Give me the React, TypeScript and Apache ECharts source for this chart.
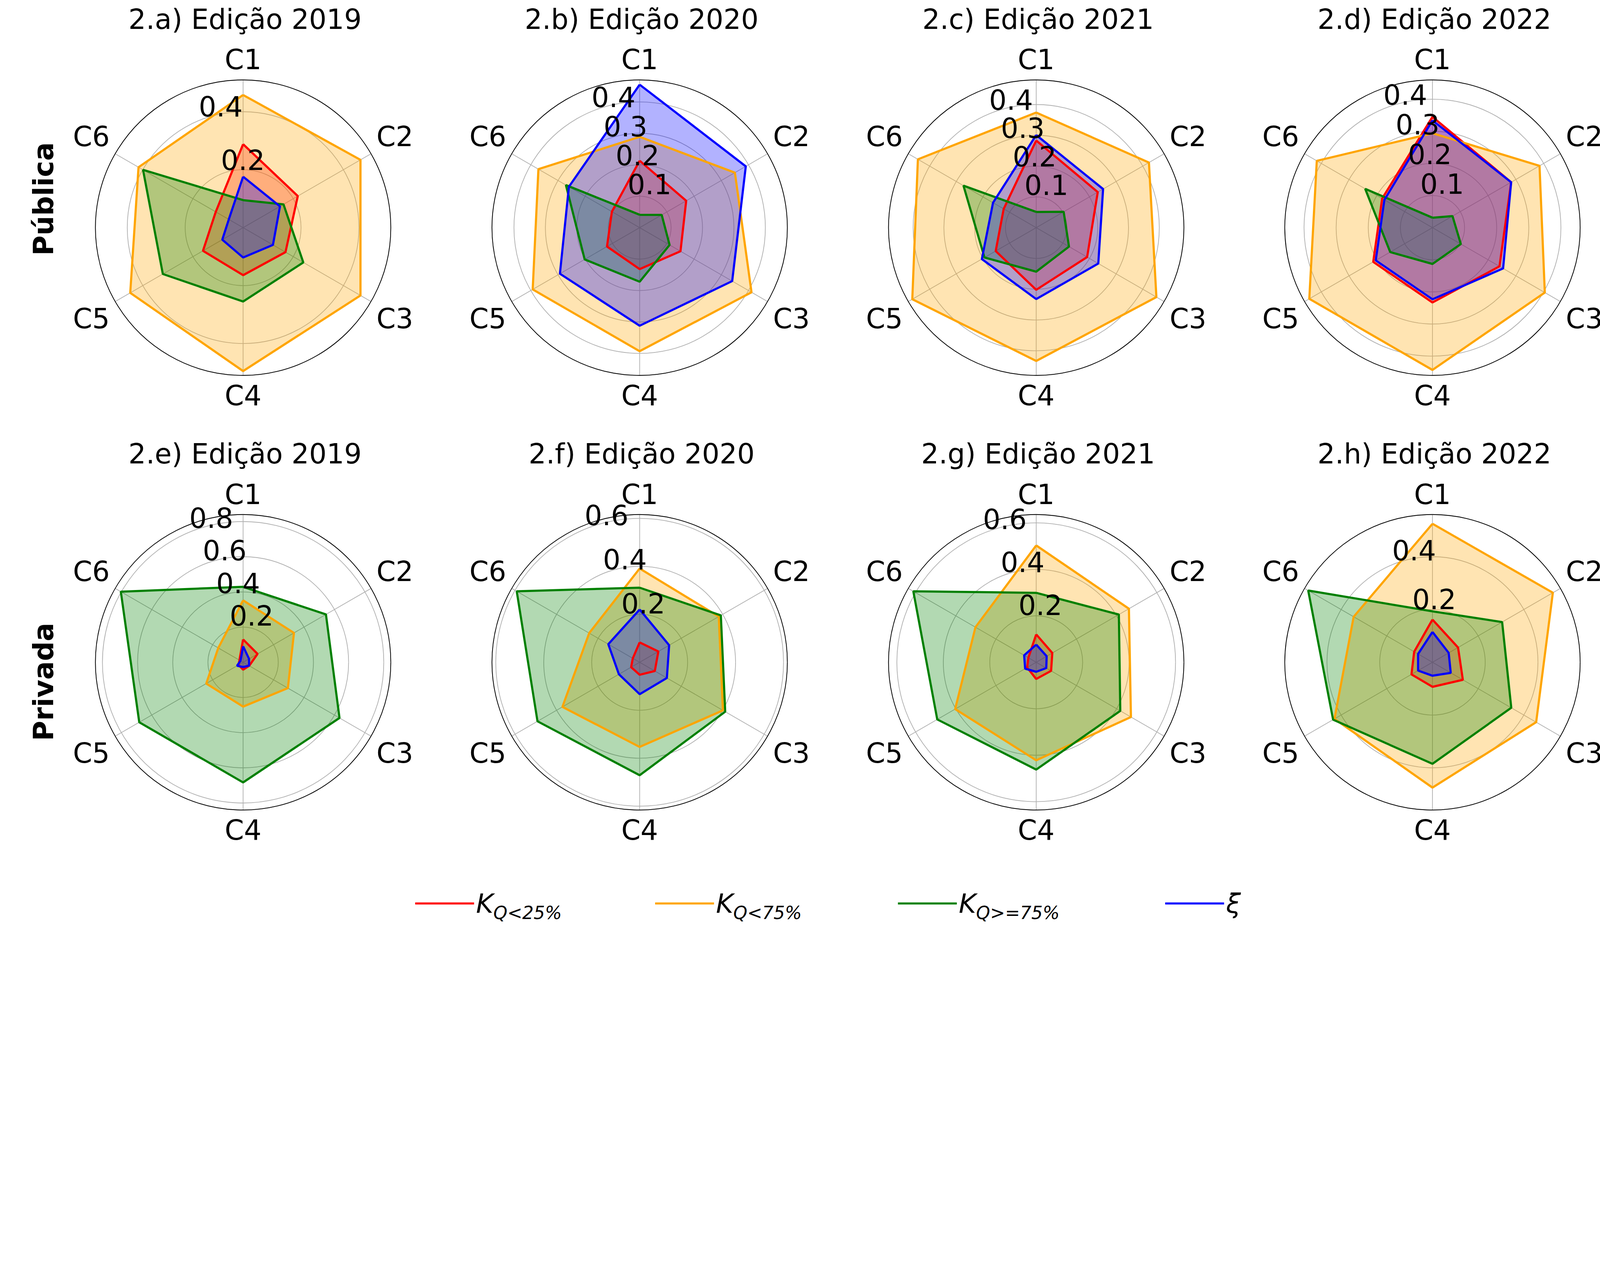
import React, { useEffect, useRef } from "react";
import * as echarts from "echarts";

const categories = ["C1", "C2", "C3", "C4", "C5", "C6"];
const titles = [
  "2.a) Edição 2019", "2.b) Edição 2020", "2.c) Edição 2021", "2.d) Edição 2022",
  "2.e) Edição 2019", "2.f) Edição 2020", "2.g) Edição 2021", "2.h) Edição 2022",
];
const rowLabels = ["Pública", "Privada"];
const rMax = [0.51, 0.47, 0.48, 0.46, 0.84, 0.616, 0.636, 0.56];
const rStep = [0.2, 0.1, 0.1, 0.1, 0.2, 0.2, 0.2, 0.2];

const q25 = [
  [0.288, 0.218, 0.169, 0.164, 0.160, 0.109],
  [0.213, 0.171, 0.150, 0.132, 0.120, 0.102],
  [0.283, 0.231, 0.191, 0.202, 0.152, 0.122],
  [0.345, 0.283, 0.241, 0.233, 0.213, 0.181],
  [0.130, 0.095, 0.040, 0.042, 0.030, 0.024],
  [0.083, 0.090, 0.073, 0.052, 0.041, 0.033],
  [0.120, 0.080, 0.074, 0.072, 0.045, 0.039],
  [0.162, 0.112, 0.133, 0.093, 0.092, 0.080],
];
const q75 = [
  [0.458, 0.468, 0.468, 0.495, 0.450, 0.417],
  [0.289, 0.350, 0.411, 0.393, 0.393, 0.372],
  [0.374, 0.423, 0.451, 0.433, 0.465, 0.444],
  [0.294, 0.385, 0.404, 0.443, 0.443, 0.416],
  [0.352, 0.334, 0.294, 0.252, 0.242, 0.163],
  [0.391, 0.381, 0.401, 0.353, 0.372, 0.243],
  [0.503, 0.461, 0.471, 0.422, 0.403, 0.302],
  [0.525, 0.527, 0.454, 0.475, 0.429, 0.345],
];
const q100 = [
  [0.095, 0.161, 0.240, 0.255, 0.320, 0.399],
  [0.041, 0.081, 0.110, 0.172, 0.202, 0.271],
  [0.051, 0.103, 0.123, 0.143, 0.194, 0.273],
  [0.031, 0.072, 0.102, 0.113, 0.152, 0.242],
  [0.429, 0.544, 0.633, 0.683, 0.682, 0.803],
  [0.311, 0.391, 0.412, 0.471, 0.492, 0.592],
  [0.299, 0.411, 0.418, 0.462, 0.492, 0.611],
  [0.193, 0.305, 0.345, 0.385, 0.435, 0.544],
];
const xi = [
  [0.176, 0.147, 0.119, 0.103, 0.083, 0.057],
  [0.455, 0.390, 0.340, 0.312, 0.293, 0.260],
  [0.301, 0.251, 0.233, 0.232, 0.204, 0.162],
  [0.334, 0.283, 0.254, 0.223, 0.204, 0.173],
  [0.091, 0.039, 0.039, 0.027, 0.040, 0.017],
  [0.220, 0.142, 0.131, 0.133, 0.100, 0.151],
  [0.076, 0.052, 0.050, 0.041, 0.055, 0.060],
  [0.115, 0.071, 0.080, 0.051, 0.063, 0.063],
];

const seriesDefs = [
  { name: "q25", data: q25, color: "#ff0000", label: "{k|K}{s|Q<25%}" },
  { name: "q75", data: q75, color: "#ffa500", label: "{k|K}{s|Q<75%}" },
  { name: "q100", data: q100, color: "#008000", label: "{k|K}{s|Q>=75%}" },
  { name: "xi", data: xi, color: "#0000ff", label: "{k|ξ}" },
];

const W = 5568, H = 3286;
const colX = [846, 2226, 3606, 4985];
const rowY = [792, 2304];
const R = 514;
const FONT = "DejaVu Sans";

export default function App() {
  const ref = useRef<HTMLDivElement>(null);
  const s = (typeof window !== "undefined" && window.innerWidth ? window.innerWidth : W) / W;
  useEffect(() => {
    document.body.style.margin = "0";
    const chart = echarts.init(ref.current!, null, { renderer: "svg" });
    const polar: any[] = [], angleAxis: any[] = [], radiusAxis: any[] = [], series: any[] = [], title: any[] = [];
    for (let i = 0; i < 8; i++) {
      const cx = colX[i % 4] * s, cy = rowY[Math.floor(i / 4)] * s;
      polar.push({ center: [cx, cy], radius: R * s });
      polar.push({ center: [cx, cy], radius: R * s });
      angleAxis.push({
        polarIndex: 2 * i, type: "value", min: 0, max: 360, interval: 60, startAngle: 90, clockwise: true,
        axisLine: { show: true, lineStyle: { color: "#000", width: 2.5 * s } },
        axisTick: { show: false },
        splitLine: { show: true, lineStyle: { color: "#b0b0b0", width: 2.5 * s } },
        axisLabel: {
          margin: 22 * s, fontSize: 96 * s, color: "#000", fontFamily: FONT,
          formatter: (v: number) => (v >= 360 ? "" : categories[Math.round(v / 60)]),
        },
      });
      angleAxis.push({ polarIndex: 2 * i + 1, type: "value", min: 0, max: 360, startAngle: 112.5, show: false });
      radiusAxis.push({
        polarIndex: 2 * i, type: "value", min: 0, max: rMax[i], interval: rStep[i],
        axisLine: { show: false }, axisTick: { show: false }, axisLabel: { show: false },
        splitLine: { show: true, lineStyle: { color: "#b0b0b0", width: 2.5 * s } },
      });
      radiusAxis.push({
        polarIndex: 2 * i + 1, type: "value", min: 0, max: rMax[i], interval: rStep[i], z: 10,
        axisLine: { show: false }, axisTick: { show: false }, splitLine: { show: false },
        axisLabel: {
          show: true, fontSize: 96 * s, color: "#000", fontFamily: FONT, margin: 0, rotate: 0,
          align: "left", verticalAlign: "bottom",
          formatter: (v: number) => (v > 1e-6 && v < rMax[i] - 1e-6 ? v.toFixed(1) : ""),
        },
      });
      title.push({
        text: titles[i], left: cx, top: (rowY[Math.floor(i / 4)] - 792 + 12) * s, textAlign: "center",
        textStyle: { fontSize: 96 * s, fontWeight: "normal", color: "#000", fontFamily: FONT },
      });
      seriesDefs.forEach((d) => {
        const vals = d.data[i];
        const pts = vals.map((v, k) => [v, k * 60]);
        pts.push([vals[0], 360]);
        series.push({
          name: d.name, type: "line", coordinateSystem: "polar", polarIndex: 2 * i,
          data: pts, symbol: "none", silent: true,
          lineStyle: { color: d.color, width: 7.5 * s },
          itemStyle: { color: d.color },
          areaStyle: { color: d.color, opacity: 0.3 },
        });
      });
    }
    const legendX = [1438, 2273, 3118, 4048];
    const legend = seriesDefs.map((d, j) => ({
      data: [d.name], left: legendX[j] * s, top: 3090 * s, icon: "rect",
      itemWidth: 205 * s, itemHeight: 7 * s, itemGap: 20 * s,
      formatter: () => d.label,
      textStyle: {
        color: "#000", fontFamily: FONT,
        rich: {
          k: { fontSize: 92 * s, fontStyle: "italic", fontFamily: FONT, color: "#000", lineHeight: 130 * s, verticalAlign: "middle" },
          s: { fontSize: 62 * s, fontStyle: "italic", fontFamily: FONT, color: "#000", lineHeight: 130 * s, verticalAlign: "bottom", padding: [40 * s, 0, 0, 0] },
        },
      },
    }));
    const graphic = rowLabels.map((t, j) => ({
      type: "text", x: 152 * s, y: [692, 2372][j] * s, rotation: Math.PI / 2,
      style: { text: t, fontSize: 96 * s, fontWeight: "bold", fontFamily: FONT, fill: "#000", align: "center", verticalAlign: "middle" },
    }));
    chart.setOption({
      animation: false, backgroundColor: "#fff",
      title, polar, angleAxis, radiusAxis, series, legend, graphic,
    });
    return () => chart.dispose();
  }, []);
  return <div ref={ref} style={{ width: W * s, height: H * s }} />;
}
